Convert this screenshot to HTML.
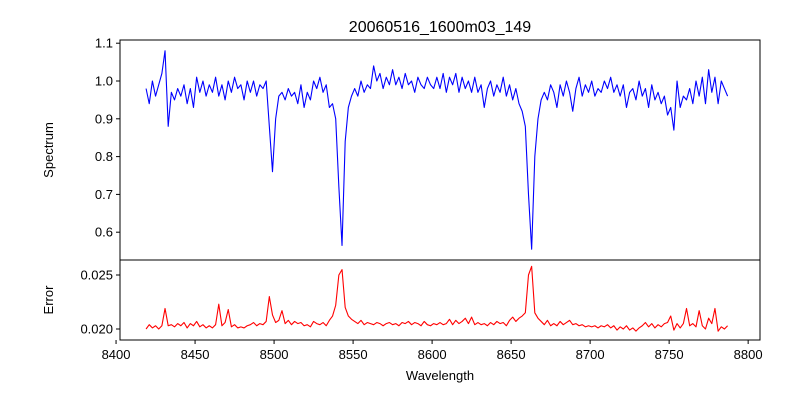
<!DOCTYPE html>
<html><head><meta charset="utf-8"><style>
body{margin:0;background:#fff;}
svg text{font-family:"Liberation Sans","DejaVu Sans",sans-serif;fill:#000;}
</style></head><body>
<svg id="chart" width="800" height="400" xmlns="http://www.w3.org/2000/svg">
<rect width="800" height="400" fill="#fff"/>
<text x="440" y="32" font-size="16" text-anchor="middle">20060516_1600m03_149</text>
<g id="topG"></g><g id="botG"></g>
<text transform="translate(53,150) rotate(-90)" font-size="13" text-anchor="middle">Spectrum</text>
<text transform="translate(53,300) rotate(-90)" font-size="13" text-anchor="middle">Error</text>
<text x="440" y="380" font-size="13" text-anchor="middle">Wavelength</text>
</svg>
<script>
const gridStart = 8419, gridStep = 2;
const flux = [0.98,0.94,1.00,0.96,0.99,1.02,1.08,0.88,0.97,0.95,0.98,0.96,0.99,0.94,0.98,0.93,1.01,0.97,1.00,0.96,0.99,0.97,1.01,0.96,0.99,0.95,1.00,0.97,1.01,0.98,0.99,0.95,1.00,0.97,1.00,0.96,0.99,0.98,1.00,0.88,0.76,0.90,0.96,0.97,0.95,0.98,0.96,0.97,0.94,0.99,0.93,0.97,0.95,1.00,0.98,1.01,0.97,0.99,0.93,0.94,0.90,0.72,0.565,0.84,0.93,0.96,0.98,0.96,1.00,0.97,0.99,0.98,1.04,1.00,1.02,0.98,1.01,0.99,1.03,0.99,1.01,0.98,1.02,0.99,1.00,0.97,1.01,0.99,0.98,1.01,0.99,0.98,1.01,0.98,1.02,0.97,1.01,0.99,1.02,0.97,1.01,0.98,1.00,0.97,1.01,0.97,0.99,0.93,0.98,1.00,0.96,0.99,0.97,1.01,0.96,0.99,0.95,0.98,0.94,0.92,0.88,0.70,0.555,0.80,0.90,0.95,0.97,0.95,0.99,0.97,0.93,0.99,0.96,1.00,0.97,0.92,0.98,1.01,0.96,0.99,0.97,1.00,0.96,0.98,0.97,1.00,0.98,1.01,0.97,0.99,0.96,0.99,0.93,0.97,0.98,0.95,1.00,0.96,0.98,0.93,0.99,0.95,0.97,0.94,0.96,0.91,0.93,0.87,1.00,0.93,0.96,0.95,0.98,0.94,1.00,0.96,1.01,0.94,1.03,0.97,1.01,0.94,1.00,0.98,0.96];
const errs = [0.0200,0.0204,0.0201,0.0203,0.0200,0.0203,0.0219,0.0203,0.0204,0.0202,0.0205,0.0203,0.0206,0.0201,0.0205,0.0203,0.0207,0.0202,0.0204,0.0201,0.0203,0.0201,0.0204,0.0223,0.0203,0.0206,0.0218,0.0202,0.0204,0.0201,0.0202,0.0201,0.0203,0.0204,0.0206,0.0203,0.0205,0.0204,0.0207,0.0230,0.0213,0.0206,0.0208,0.0217,0.0205,0.0208,0.0204,0.0207,0.0205,0.0206,0.0203,0.0204,0.0202,0.0207,0.0205,0.0204,0.0206,0.0203,0.0208,0.0212,0.0222,0.0250,0.0255,0.0220,0.0212,0.0209,0.0207,0.0205,0.0208,0.0204,0.0206,0.0205,0.0204,0.0206,0.0205,0.0203,0.0205,0.0206,0.0204,0.0205,0.0203,0.0206,0.0205,0.0207,0.0204,0.0206,0.0205,0.0203,0.0207,0.0204,0.0203,0.0205,0.0204,0.0206,0.0204,0.0205,0.0209,0.0204,0.0208,0.0205,0.0207,0.0210,0.0205,0.0211,0.0204,0.0206,0.0204,0.0205,0.0203,0.0206,0.0204,0.0207,0.0205,0.0206,0.0203,0.0208,0.0211,0.0207,0.0210,0.0212,0.0215,0.0250,0.0258,0.0215,0.0210,0.0207,0.0204,0.0208,0.0203,0.0205,0.0203,0.0207,0.0204,0.0206,0.0208,0.0204,0.0205,0.0203,0.0204,0.0202,0.0203,0.0202,0.0203,0.0201,0.0203,0.0202,0.0204,0.0201,0.0203,0.0199,0.0202,0.0200,0.0203,0.0199,0.0201,0.0198,0.0201,0.0203,0.0206,0.0202,0.0205,0.0201,0.0204,0.0202,0.0205,0.0206,0.0212,0.0199,0.0205,0.0201,0.0205,0.0219,0.0203,0.0205,0.0202,0.0217,0.0203,0.0200,0.0210,0.0205,0.0219,0.0198,0.0202,0.0200,0.0203];
const xTicks = [8400,8450,8500,8550,8600,8650,8700,8750,8800];
const topTicks = [0.6,0.7,0.8,0.9,1.0,1.1];
const botTicks = [0.020,0.025];

const NS="http://www.w3.org/2000/svg";
const L=120,R=760;
const xs = v => L + (v-8402.5)/405*(R-L);
const ys = v => 81 - (v-1.0)*378;
const ye = v => 329 - (v-0.020)*10800;
function mk(tag,parent,attrs){const e=document.createElementNS(NS,tag);for(const k in attrs)e.setAttribute(k,attrs[k]);parent.appendChild(e);return e;}
const svgEl=document.getElementById('chart');
const topG=document.getElementById('topG'), botG=document.getElementById('botG');

let d=flux.map((v,i)=>(i?'L':'M')+xs(gridStart+gridStep*i).toFixed(2)+','+ys(v).toFixed(2)).join('');
const p1=mk('path',topG,{d:d,fill:'none',stroke:'#0000ff','stroke-width':1.1,'stroke-linejoin':'round'});


d=errs.map((v,i)=>(i?'L':'M')+xs(gridStart+gridStep*i).toFixed(2)+','+ye(v).toFixed(2)).join('');
const p2=mk('path',botG,{d:d,fill:'none',stroke:'#ff0000','stroke-width':1.1,'stroke-linejoin':'round'});



const f1=mk('rect',svgEl,{x:L,y:40,width:R-L,height:220,fill:'none',stroke:'#000','stroke-width':1});


const f2=mk('rect',svgEl,{x:L,y:260,width:R-L,height:80,fill:'none',stroke:'#000','stroke-width':1});



topTicks.forEach(t=>{const y=ys(t);
 mk('line',svgEl,{x1:L-4,x2:L,y1:y,y2:y,stroke:'#000'});
 const tx=mk('text',svgEl,{x:L-7,y:y+4.5,'font-size':13,'text-anchor':'end'});tx.textContent=t.toFixed(1);
 
 });
botTicks.forEach(t=>{const y=ye(t);
 mk('line',svgEl,{x1:L-4,x2:L,y1:y,y2:y,stroke:'#000'});
 const tx=mk('text',svgEl,{x:L-7,y:y+4.5,'font-size':13,'text-anchor':'end'});tx.textContent=t.toFixed(3);
 
 });
xTicks.forEach(t=>{const x=xs(t);
 mk('line',svgEl,{x1:x,x2:x,y1:340,y2:344,stroke:'#000'});
 const tx=mk('text',svgEl,{x:x,y:359,'font-size':13,'text-anchor':'middle'});tx.textContent=t;
 
 });
</script>
</body></html>
